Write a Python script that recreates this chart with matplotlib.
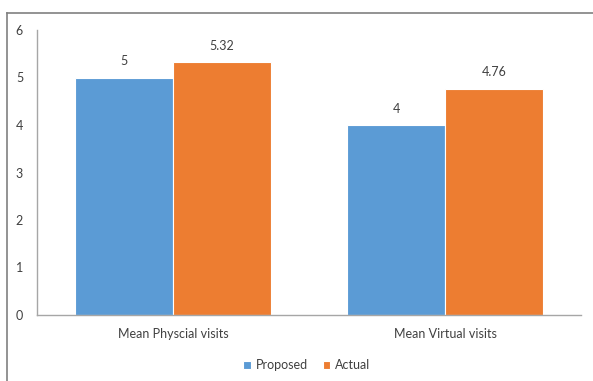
import matplotlib.pyplot as plt
import numpy as np
from matplotlib.lines import Line2D

categories = ["Mean Physcial visits", "Mean Virtual visits"]
proposed = [5, 4]
actual = [5.32, 4.76]
series_names = ["Proposed", "Actual"]

plt.rcParams['font.family'] = ['Lato', 'DejaVu Sans']

fig = plt.figure(figsize=(5.93, 3.81), dpi=100)
ax = fig.add_axes([37 / 593, 66 / 381, 544 / 593, 285 / 381])

x = np.arange(len(categories))
w = 0.36
blue, orange = "#5B9BD5", "#ED7D31"
b1 = ax.bar(x - w / 2, proposed, w, color=blue, edgecolor="white", linewidth=0.8, label=series_names[0])
b2 = ax.bar(x + w / 2, actual, w, color=orange, edgecolor="white", linewidth=0.8, label=series_names[1])

for bars, vals in ((b1, proposed), (b2, actual)):
    for r, v in zip(bars, vals):
        ax.text(r.get_x() + r.get_width() / 2, v + 0.22, f"{v:g}",
                ha="center", va="bottom", fontsize=9, color="#404040")

ax.set_xlim(-0.5, 1.5)
ax.set_ylim(0, 6)
ax.set_yticks(range(0, 7))
ax.set_xticks(x)
ax.set_xticklabels(categories)
ax.tick_params(axis="both", length=0, labelsize=9, labelcolor="#404040")
ax.tick_params(axis="y", pad=10)
ax.tick_params(axis="x", pad=9)
for s in ("top", "right"):
    ax.spines[s].set_visible(False)
for s in ("left", "bottom"):
    ax.spines[s].set_color("#A6A6A6")
    ax.spines[s].set_linewidth(1)

ax.legend(loc="center", bbox_to_anchor=(307 / 593, 16 / 381), bbox_transform=fig.transFigure,
          ncol=2, frameon=False, fontsize=9, handlelength=0.6, handleheight=0.6,
          handletextpad=0.4, columnspacing=1.2, labelcolor="#404040")

# outer chart border
fig.add_artist(Line2D([7 / 593, 1], [1 - 13 / 381] * 2, transform=fig.transFigure, color="#808080", lw=1.2))
fig.add_artist(Line2D([7 / 593] * 2, [0, 1 - 13 / 381], transform=fig.transFigure, color="#808080", lw=1.2))

fig.savefig("out.png", dpi=100)
